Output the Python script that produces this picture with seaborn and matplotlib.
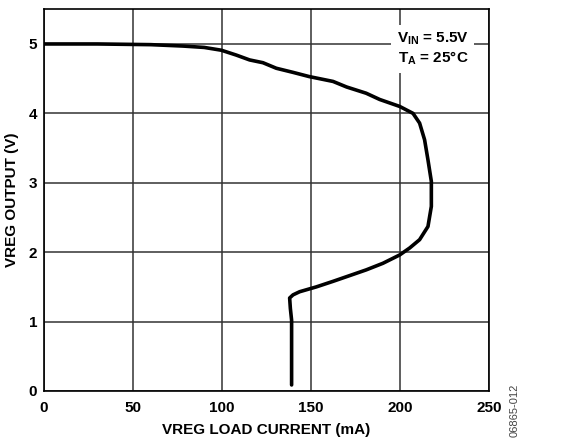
import numpy as np
import pandas as pd
import matplotlib
matplotlib.use("Agg")
import matplotlib.pyplot as plt
import seaborn as sns

# VREG load current (mA) vs VREG output (V)
load_current = [0, 30, 60, 78, 90, 99.6, 108, 115.5, 123, 130.5, 140, 149, 162.4, 170,
                181, 188.6, 199.8, 207.3, 211, 213.8, 215.7, 217.6, 217.6, 215.7,
                211, 205.4, 199.8, 190.4, 181, 162.4, 153, 143.6, 139.9, 138,
                138.4, 139.1, 139.1]
vreg_output = [5.0, 5.0, 4.99, 4.97, 4.95, 4.91, 4.84, 4.77, 4.73, 4.65, 4.59, 4.53, 4.46, 4.38,
               4.29, 4.20, 4.10, 4.0, 3.86, 3.62, 3.33, 3.02, 2.66, 2.37,
               2.18, 2.06, 1.96, 1.84, 1.745, 1.58, 1.50, 1.43, 1.385, 1.34,
               1.19, 1.02, 0.087]

x_ticks = [0, 50, 100, 150, 200, 250]
y_ticks = [0, 1, 2, 3, 4, 5]

df = pd.DataFrame({"current": load_current, "vout": vreg_output})

sns.set_style("white")
plt.rcParams["font.family"] = ["Liberation Sans", "DejaVu Sans"]
plt.rcParams["font.weight"] = "bold"
plt.rcParams["text.color"] = "black"
plt.rcParams["axes.labelcolor"] = "black"
plt.rcParams["xtick.color"] = "black"
plt.rcParams["ytick.color"] = "black"
plt.rcParams["mathtext.fontset"] = "custom"
plt.rcParams["mathtext.rm"] = "Liberation Sans:bold"
plt.rcParams["mathtext.it"] = "Liberation Sans:bold"
plt.rcParams["mathtext.bf"] = "Liberation Sans:bold"

fig = plt.figure(figsize=(5.61, 4.41), dpi=100)
ax = fig.add_axes([0.0784, 0.1134, 0.7933, 0.8656])

sns.lineplot(data=df, x="current", y="vout", sort=False, estimator=None,
             color="black", linewidth=2.6, ax=ax, zorder=3)

ax.set_xlim(0, 250)
ax.set_ylim(0, 5.5)
ax.set_xticks(x_ticks)
ax.set_yticks(y_ticks)
ax.tick_params(length=0, labelsize=11)
ax.tick_params(axis="x", pad=7)
ax.tick_params(axis="y", pad=5)
for lbl in ax.get_xticklabels() + ax.get_yticklabels():
    lbl.set_fontweight("bold")
ax.grid(True, color="#333333", linewidth=1.1)
for s in ax.spines.values():
    s.set_color("black")
    s.set_linewidth(1.2)

ax.set_xlabel("VREG LOAD CURRENT (mA)", fontsize=11, fontweight="bold", labelpad=6)
ax.set_ylabel("VREG OUTPUT (V)", fontsize=11, fontweight="bold", labelpad=7)

ax.text(0.955, 0.945, "V$_{IN}$ = 5.5V\nT$_{A}$ = 25°C", transform=ax.transAxes,
        ha="right", va="top", fontsize=11, fontweight="bold", linespacing=1.25,
        bbox=dict(facecolor="white", edgecolor="none", pad=4), zorder=4)

fig.text(0.918, 0.07, "06865-012", rotation=90, fontsize=8, color="#444444",
         ha="center", va="center", fontweight="normal")

fig.savefig("out.png", dpi=100)
